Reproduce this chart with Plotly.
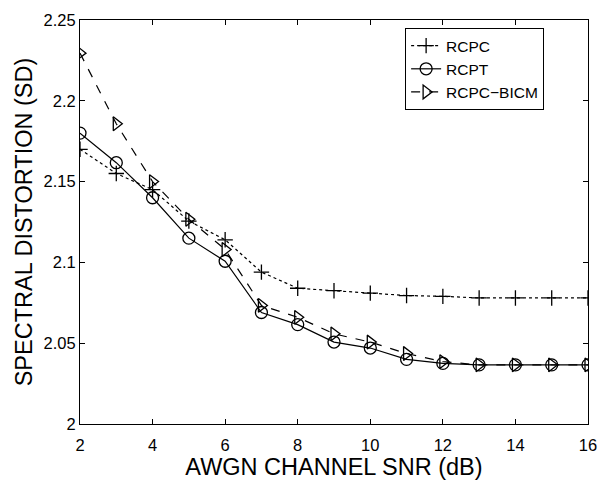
import plotly.graph_objects as go

snr = [2, 3, 4, 5, 6, 7, 8, 9, 10, 11, 12, 13, 14, 15, 16]
rcpc = [2.170, 2.155, 2.145, 2.1256, 2.114, 2.094, 2.084, 2.0825, 2.081, 2.0795, 2.079, 2.078, 2.078, 2.078, 2.078]
rcpt = [2.180, 2.1617, 2.140, 2.115, 2.1007, 2.069, 2.0615, 2.0507, 2.047, 2.040, 2.0375, 2.0366, 2.0366, 2.0366, 2.0366]
bicm = [2.2295, 2.1858, 2.150, 2.1267, 2.108, 2.0734, 2.066, 2.0558, 2.0507, 2.0436, 2.0386, 2.0366, 2.0366, 2.0366, 2.0366]

xticks = [2, 4, 6, 8, 10, 12, 14, 16]
yticks = [2, 2.05, 2.1, 2.15, 2.2, 2.25]
ytick_text = ["2", "2.05", "2.1", "2.15", "2.2", "2.25"]

FONT = "Liberation Sans, Arial, sans-serif"

fig = go.Figure()
fig.add_trace(go.Scatter(x=snr, y=rcpc, name="RCPC", mode="lines+markers",
                         line=dict(color="black", width=1.2, dash="dot"),
                         marker=dict(symbol="cross-thin-open", size=11, color="black",
                                     line=dict(color="black", width=1.3))))
fig.add_trace(go.Scatter(x=snr, y=rcpt, name="RCPT", mode="lines+markers",
                         line=dict(color="black", width=1.2),
                         marker=dict(symbol="circle-open", size=12, color="black",
                                     line=dict(color="black", width=1.3))))
fig.add_trace(go.Scatter(x=snr, y=bicm, name="RCPC\u2212BICM", mode="lines+markers",
                         line=dict(color="black", width=1.2, dash="dash"),
                         marker=dict(symbol="triangle-right-open", size=12, color="black",
                                     line=dict(color="black", width=1.3))))

axis_common = dict(showline=True, linecolor="black", linewidth=1, mirror="ticks",
                   ticks="inside", ticklen=5, tickcolor="black", showgrid=False,
                   zeroline=False, tickfont=dict(family=FONT, size=16.5, color="black"))

fig.update_layout(
    width=608, height=481,
    margin=dict(l=80, r=11, t=17, b=53),
    paper_bgcolor="white", plot_bgcolor="white",
    font=dict(family=FONT, color="black"),
    showlegend=True,
    legend=dict(x=0.640, y=0.98, xanchor="left", yanchor="top",
                bordercolor="black", borderwidth=1, bgcolor="white",
                font=dict(family=FONT, size=15.5, color="black"),
                tracegroupgap=0, itemwidth=30),
    xaxis=dict(range=[2, 16], tickvals=xticks, ticklabelstandoff=6,
               title=dict(text="AWGN CHANNEL SNR (dB)", font=dict(family=FONT, size=23.5), standoff=0),
               **axis_common),
    yaxis=dict(range=[2, 2.25], tickvals=yticks, ticktext=ytick_text,
               title=dict(text="SPECTRAL DISTORTION (SD)", font=dict(family=FONT, size=23.5), standoff=4),
               **axis_common),
)

fig.write_html("out.html")
